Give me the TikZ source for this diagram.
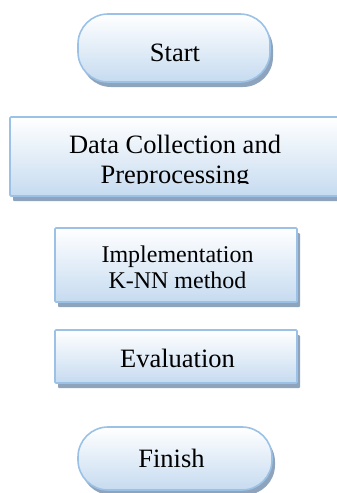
\documentclass[tikz,border=0pt]{standalone}
\usepackage{fontspec}
\setmainfont{Liberation Serif}
\usetikzlibrary{shadows}
\definecolor{edgeblue}{RGB}{155,194,230}
\definecolor{fillbot}{RGB}{198,219,240}
\definecolor{shadowc}{RGB}{142,164,188}
\tikzset{
  panel/.style={draw=edgeblue, line width=1.6pt, inner sep=0pt,
    top color=white, bottom color=fillbot,
    drop shadow={shadow xshift=3pt, shadow yshift=-5pt, fill=shadowc, opacity=1}},
  terminal/.style={panel, rounded corners=30pt},
  stepbox/.style={panel, rounded corners=1pt},
  lbl/.style={inner sep=0pt, anchor=base, font=\fontsize{26.5}{30}\selectfont},
  lblsmall/.style={lbl, font=\fontsize{24}{27}\selectfont}
}
\begin{document}
\begin{tikzpicture}[x=1pt,y=1pt]
\useasboundingbox (0,0) rectangle (337,-493);
\begin{scope}
\clip (0,0) rectangle (337,-493);
% boxes
\node[terminal, minimum width=192pt, minimum height=68pt] (start) at (174,-48) {};
\node[stepbox, minimum width=330pt, minimum height=79pt] (data) at (175,-156.5) {};
\node[stepbox, minimum width=242pt, minimum height=74pt] (impl) at (176,-265) {};
\node[stepbox, minimum width=242pt, minimum height=53pt] (eval) at (176,-356.5) {};
\node[terminal, minimum width=194pt, minimum height=63pt] (finish) at (175,-458.5) {};
\end{scope}
% labels
\node[lbl] (tstart) at (175,-61) {Start};
\node[lbl] (tdata1) at (175,-153) {Data Collection and};
\begin{scope}
\clip (0,-100) rectangle (337,-183.5);
\node[lbl] (tdata2) at (175,-183) {Preprocessing};
\end{scope}
\node[lblsmall] (timpl1) at (177.5,-262) {Implementation};
\node[lblsmall] (timpl2) at (177.5,-288) {K-NN method};
\node[lbl] (teval) at (177.5,-367) {Evaluation};
\node[lbl] (tfinish) at (171.5,-467) {Finish};
\end{tikzpicture}
\end{document}
